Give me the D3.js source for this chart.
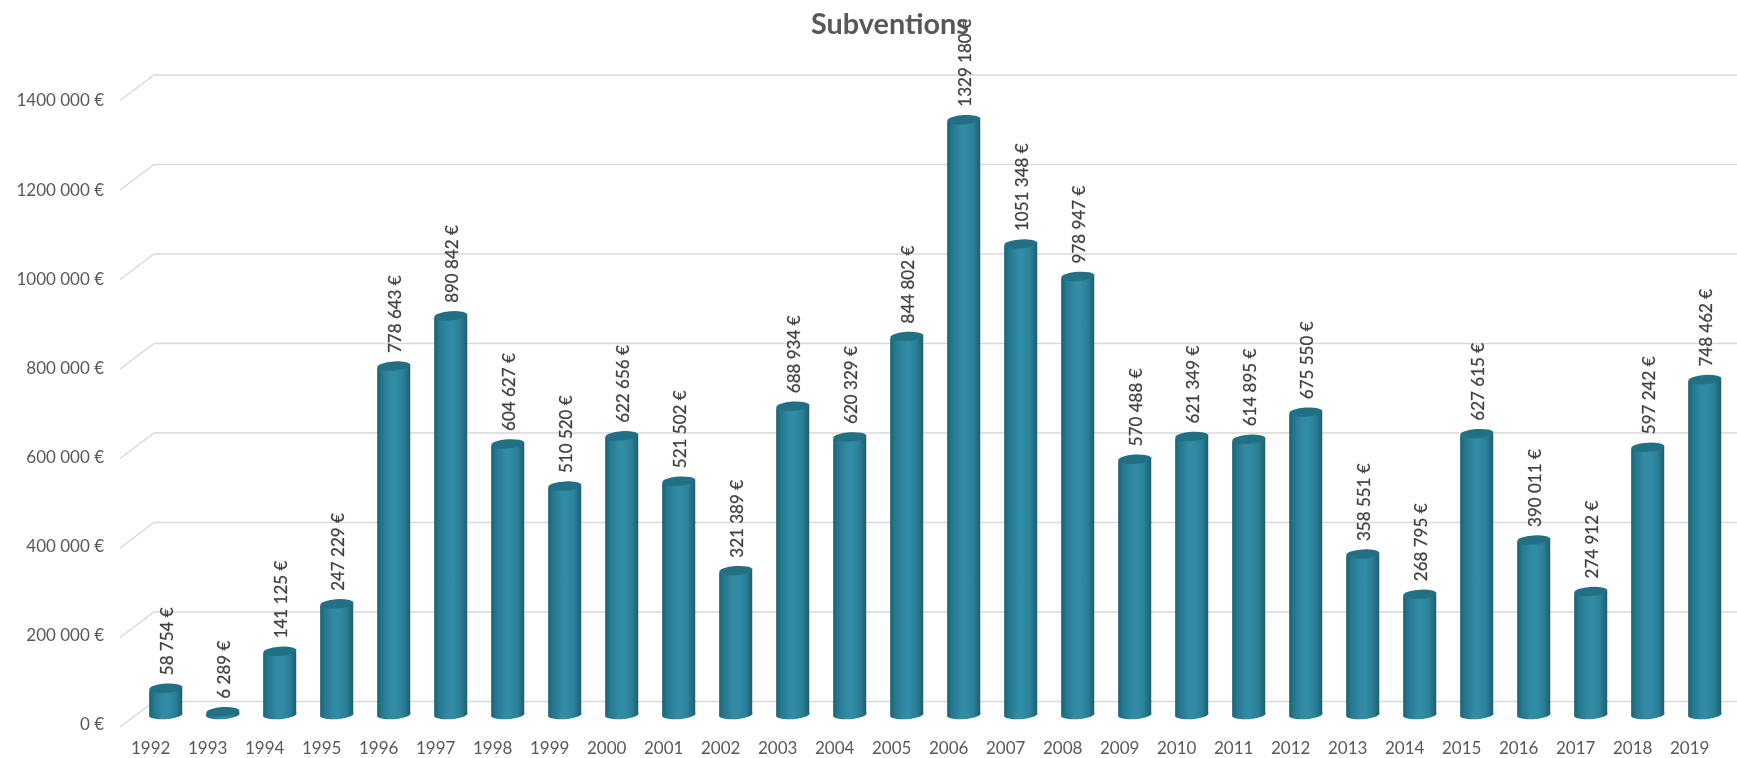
<!DOCTYPE html>
<html><head><meta charset="utf-8">
<script src="https://cdn.jsdelivr.net/npm/d3@7/dist/d3.min.js"></script>
<style>html,body{margin:0;background:#fff;overflow:hidden}svg{display:block}</style>
</head><body><svg id="c" width="1737" height="758"></svg>
<script>
const years=[1992,1993,1994,1995,1996,1997,1998,1999,2000,2001,2002,2003,2004,2005,2006,2007,2008,2009,2010,2011,2012,2013,2014,2015,2016,2017,2018,2019];
const subventions=[58754,6289,141125,247229,778643,890842,604627,510520,622656,521502,321389,688934,620329,844802,1329180,1051348,978947,570488,621349,614895,675550,358551,268795,627615,390011,274912,597242,748462];
const yTicks=[0,200000,400000,600000,800000,1000000,1200000,1400000];
const title="Subventions";

const W=1737,H=758;
const svg=d3.select("#c");
const euro=d3.formatLocale({decimal:",",thousands:" ",grouping:[3,9],currency:["","\u00a0€"]}).format("$,d");
const font="Lato, Carlito, sans-serif";

const step=57;
const x=d3.scaleBand().domain(years).range([165.7-step/2,165.7-step/2+step*years.length]).paddingInner(0.42).paddingOuter(0.21);
const y=d3.scaleLinear().domain([0,1400000]).range([714.5,714.5-626.5]);
const yLabels=d3.scaleLinear().domain([0,1400000]).range([724.5,100.5]);
const cx=d=>x(d)+x.bandwidth()/2;

const defs=svg.append("defs");
const g=defs.append("linearGradient").attr("id","cyl").attr("x1",0).attr("x2",1).attr("y1",0).attr("y2",0);
[[0,"#1c6073"],[0.12,"#25758b"],[0.38,"#2f89a2"],[0.55,"#318ca5"],[0.78,"#2b8098"],[0.93,"#21687c"],[1,"#1b596b"]]
 .forEach(s=>g.append("stop").attr("offset",s[0]).attr("stop-color",s[1]));
defs.append("filter").attr("id","soft").append("feGaussianBlur").attr("stdDeviation",0.5);

const root=svg.append("g").attr("filter","url(#soft)");

const backDx=154,backDy=-13;
const grid=root.append("g").attr("fill","none").attr("stroke","#d9d9d9").attr("stroke-width",1.4);
grid.selectAll("path").data(yTicks).join("path")
  .attr("d",d=>{const yb=y(d)+backDy;return `M120,${yb+25.5}L${backDx},${yb}H${W}`;});

const yAxis=d3.axisLeft(yLabels).tickValues(yTicks).tickSize(0).tickPadding(0).tickFormat(euro);
const ya=root.append("g").attr("transform","translate(104,0)").call(yAxis);
ya.select(".domain").remove();
ya.selectAll("text").attr("font-family",font).attr("font-size",17).attr("fill","#595959");

const xAxis=d3.axisBottom(x).tickSize(0).tickPadding(0);
const xa=root.append("g").attr("transform","translate(-15,742)").call(xAxis);
xa.select(".domain").remove();
xa.selectAll("text").attr("font-family",font).attr("font-size",17).attr("fill","#595959");

const rx=x.bandwidth()/2, ry=4.6, tilt=-4, lift=2;
const bars=root.append("g").selectAll("g").data(years.map((d,i)=>({year:d,value:subventions[i]}))).join("g");
bars.append("path").attr("fill","url(#cyl)").attr("d",d=>{
  const c=cx(d.year),t=y(d.value),b=y(0);
  return `M${c-rx},${t+lift}L${c-rx},${b+lift}A${rx},${ry} ${tilt} 0 0 ${c+rx},${b-lift}L${c+rx},${t-lift}Z`;
});
bars.append("ellipse").attr("fill","#236f84")
  .attr("cx",0).attr("cy",0).attr("rx",rx).attr("ry",ry)
  .attr("transform",d=>`translate(${cx(d.year)},${y(d.value)}) rotate(${tilt})`);

bars.append("text").text(d=>euro(d.value))
  .attr("transform",d=>`translate(${cx(d.year)+1.5},${y(d.value)-13}) rotate(-90)`)
  .attr("dy","0.35em").attr("font-family",font).attr("font-size",17).attr("fill","#404040")
  .attr("stroke","#404040").attr("stroke-width",0.25);

root.append("text").text(title).attr("x",890).attr("y",34).attr("text-anchor","middle")
  .attr("font-family",font).attr("font-weight",700).attr("font-size",28.8).attr("fill","#595959");
</script></body></html>
